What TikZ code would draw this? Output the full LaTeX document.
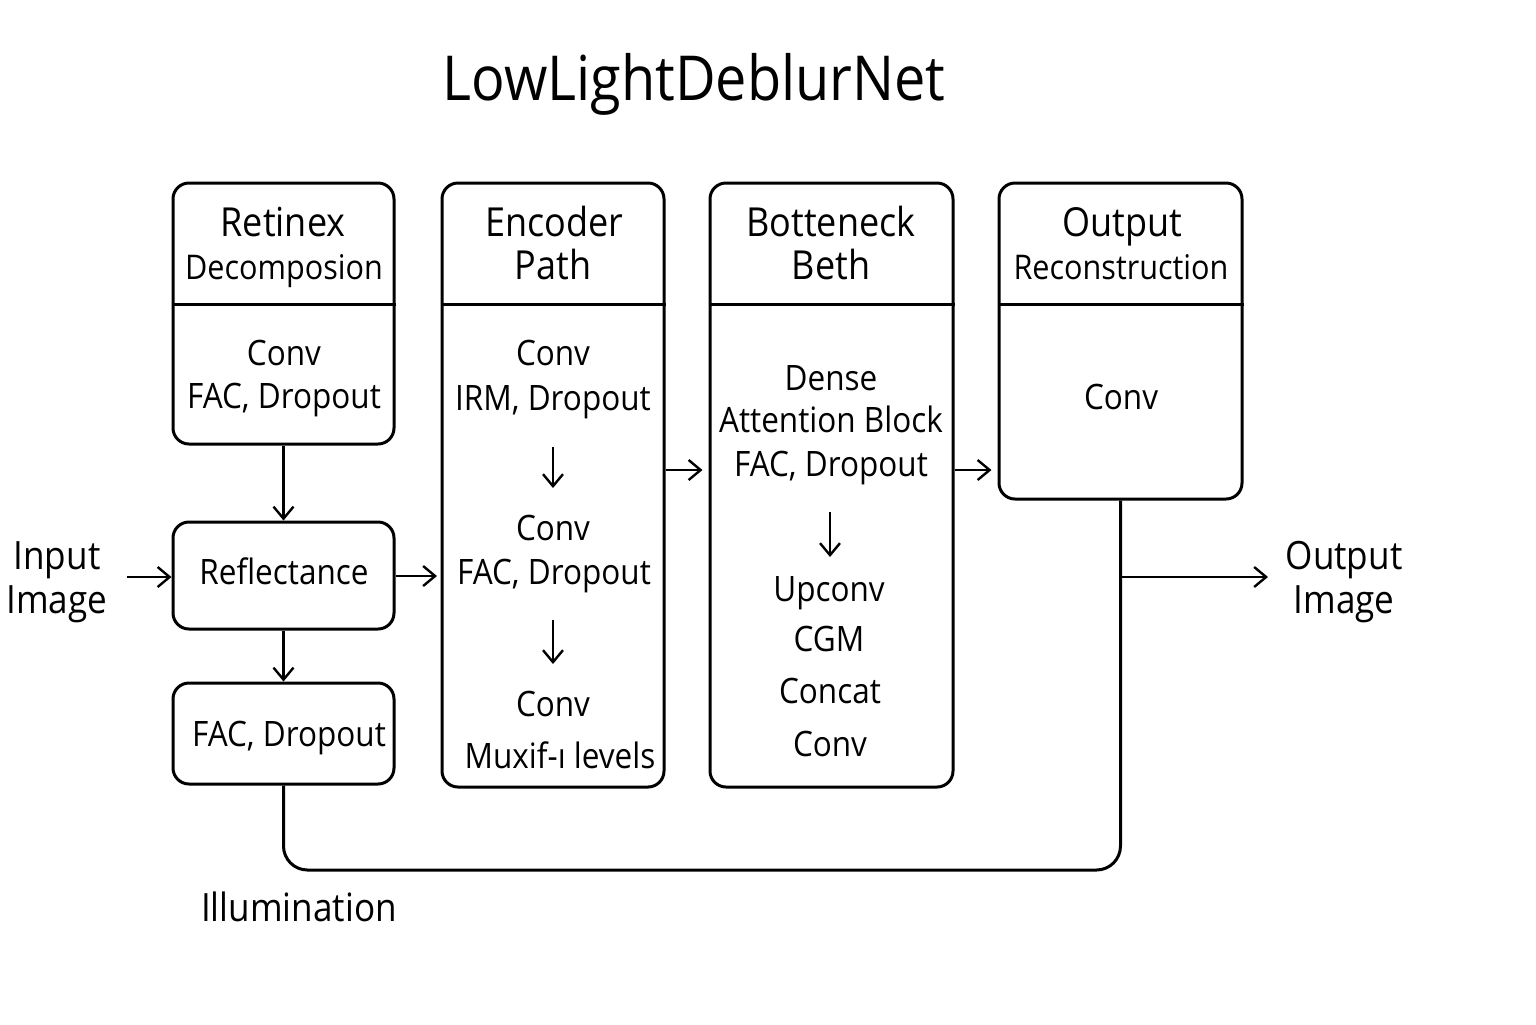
\documentclass[tikz,border=0pt]{standalone}
\usepackage{fontspec}
\setmainfont{Open Sans}[FakeStretch=0.9]
\usetikzlibrary{arrows.meta}
\begin{document}
\begin{tikzpicture}[x=0.5pt,y=-0.5pt,
  box/.style={draw, line width=1.5pt, rounded corners=8pt, inner sep=0pt},
  base/.style={inner sep=0pt, align=center, text height=0.72em, text depth=0.2em, yshift=-3.5pt},
  txt/.style={base, font=\fontsize{17.5}{22}\selectfont},
  hdr/.style={base, font=\fontsize{20}{24}\selectfont},
  small/.style={base, font=\fontsize{17}{21}\selectfont},
  side/.style={inner sep=0pt, align=center, font=\fontsize{19.5}{22}\selectfont},
  arr/.style={line width=1.2pt, -{Straight Barb[length=6pt,width=10pt,line width=1.2pt]}},
  conn/.style={line width=1.5pt}]
\useasboundingbox (0,0) rectangle (1536,1024);

\node[base, font=\fontsize{31}{36}\selectfont, yshift=-3pt] (title) at (694,82) {LowLightDeblurNet};

% boxes
\node[box, minimum width=110.5pt, minimum height=130.5pt] (ret) at (283.5,313.5) {};
\node[box, minimum width=110.5pt, minimum height=53.5pt] (refl) at (283.5,575.5) {};
\node[box, minimum width=110.5pt, minimum height=50.5pt] (fac) at (283.5,733.5) {};
\node[box, minimum width=111pt, minimum height=302pt] (enc) at (553,485) {};
\node[box, minimum width=121.5pt, minimum height=302pt] (bot) at (831.5,485) {};
\node[box, minimum width=121.5pt, minimum height=158pt] (orec) at (1120.5,341) {};

\draw[conn] (ret.west |- 0,304) -- (ret.east |- 0,304);
\draw[conn] (enc.west |- 0,304) -- (enc.east |- 0,304);
\draw[conn] (bot.west |- 0,304) -- (bot.east |- 0,304);
\draw[conn] (orec.west |- 0,304) -- (orec.east |- 0,304);

% retinex texts
\node[hdr] (t1) at (283,224) {Retinex};
\node[small] (t2) at (284,267) {Decomposion};
\node[txt] (t3) at (284,353) {Conv};
\node[txt] (t4) at (284,396) {FAC, Dropout};
\node[txt] (t5) at (284,572) {Reflectance};
\node[txt] (t6) at (289,734) {FAC, Dropout};

% encoder texts
\node[hdr] (e1) at (554,224) {Encoder};
\node[hdr] (e2) at (553,267) {Path};
\node[txt] (e3) at (553,353) {Conv};
\node[txt] (e4) at (553,398) {IRM, Dropout};
\node[txt] (e5) at (553,528) {Conv};
\node[txt] (e6) at (554,572) {FAC, Dropout};
\node[txt] (e7) at (553,704) {Conv};
\node[txt] (e8) at (560,756) {Muxif-ı levels};
\coordinate (ea1) at (553,447);
\coordinate (ea2) at (553,488);
\coordinate (ea3) at (553,620);
\coordinate (ea4) at (553,664);
\draw[arr] (ea1) -- (ea2);
\draw[arr] (ea3) -- (ea4);

% bottleneck texts
\node[hdr] (b1) at (831,224) {Botteneck};
\node[hdr] (b2) at (831,267) {Beth};
\node[txt] (b3) at (831,378) {Dense};
\node[txt] (b4) at (831,420) {Attention Block};
\node[txt] (b5) at (831,464) {FAC, Dropout};
\node[txt] (b6) at (829,589) {Upconv};
\node[txt] (b7) at (829,639) {CGM};
\node[txt] (b8) at (830,691) {Concat};
\node[txt] (b9) at (830,744) {Conv};
\coordinate (ba1) at (830,512);
\coordinate (ba2) at (830,557);
\draw[arr] (ba1) -- (ba2);

% output texts
\node[hdr] (o1) at (1122,224) {Output};
\node[small] (o2) at (1121,267) {Reconstruction};
\node[txt] (o3) at (1121,397) {Conv};

% side labels
\node[side, yshift=-2pt] (inp) at (57,578) {Input\\Image};
\node[side, yshift=-2pt] (outp) at (1344,578) {Output\\Image};
\node[side] (ill) at (299,907) {Illumination};

% connectors
\coordinate (ia) at (127,577);
\draw[arr] (ia) -- (refl.west |- ia);
\draw[arr] (ret.south) -- (refl.north);
\draw[arr] (refl.south) -- (fac.north);
\draw[arr] (refl.east |- 0,576) -- (437,576);
\coordinate (c1) at (enc.east |- 0,470);
\coordinate (c2) at (bot.west |- 0,470);
\draw[arr] (c1) -- ([xshift=-3pt]c2);
\coordinate (c3) at (bot.east |- 0,470);
\coordinate (c4) at (orec.west |- 0,470);
\draw[arr] (c3) -- ([xshift=-3pt]c4);
\draw[conn, rounded corners=12pt] (orec.south) -- (orec.south |- 0,870) -- (fac.south |- 0,870) -- (fac.south);
\coordinate (j) at (orec.south |- 0,577);
\coordinate (oe) at (1268,577);
\draw[arr] (j) -- (oe);
\end{tikzpicture}
\end{document}
